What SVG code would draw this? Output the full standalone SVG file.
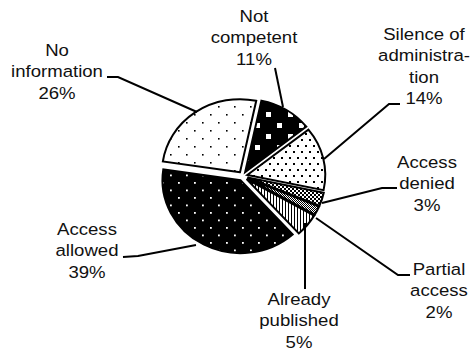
<svg xmlns="http://www.w3.org/2000/svg" width="473" height="353" viewBox="0 0 473 353">
<style>
.s{stroke:#000;stroke-width:2;stroke-linejoin:miter}
.ld{fill:none;stroke:#000;stroke-width:2}
text{font-family:"Liberation Sans",Arial,sans-serif;font-size:17.2px;fill:#111;text-anchor:middle}
</style>
<defs>
<pattern id="pNoInfo" width="16" height="16" patternUnits="userSpaceOnUse">
<rect width="16" height="16" fill="#fff"/><rect x="2" y="2" width="1.6" height="1.6" fill="#000"/><rect x="10" y="10" width="1.6" height="1.6" fill="#000"/>
</pattern>
<pattern id="pNotComp" width="22" height="22" patternUnits="userSpaceOnUse">
<rect width="22" height="22" fill="#000"/><rect x="2" y="2" width="5" height="5" fill="#fff"/><rect x="13" y="13" width="5" height="5" fill="#fff"/>
</pattern>
<pattern id="pSilence" width="8" height="12" patternUnits="userSpaceOnUse">
<rect width="8" height="12" fill="#fff"/><rect x="1" y="1" width="2" height="2" fill="#000"/><rect x="5" y="7" width="2" height="2" fill="#000"/>
</pattern>
<pattern id="pDenied" width="4" height="4" patternUnits="userSpaceOnUse">
<rect width="4" height="4" fill="#fff"/><rect width="2" height="2" fill="#000"/><rect x="2" y="2" width="2" height="2" fill="#000"/>
</pattern>
<pattern id="pPartial" width="2" height="2" patternUnits="userSpaceOnUse">
<rect width="2" height="2" fill="#fff"/><rect width="1" height="1" fill="#000"/><rect x="1" y="1" width="1" height="1" fill="#000"/>
</pattern>
<pattern id="pPublished" width="3" height="3" patternUnits="userSpaceOnUse">
<rect width="3" height="3" fill="#fff"/><rect width="1" height="3" fill="#000"/>
</pattern>
<pattern id="pAllowed" width="16" height="15" patternUnits="userSpaceOnUse">
<rect width="16" height="15" fill="#000"/><rect x="2" y="2" width="1.8" height="1.8" fill="#fff"/><rect x="10" y="9.5" width="1.8" height="1.8" fill="#fff"/>
</pattern>
</defs>

<g id="slices">
<g id="slice-not-competent"><path class="s" fill="url(#pNotComp)" d="M245.18,172.01 L261.40,100.61 A78,73 0 0 1 306.31,126.67 Z"/></g>
<g id="slice-silence"><path class="s" fill="url(#pSilence)" d="M247.28,174.93 L308.41,129.59 A78,73 0 0 1 323.57,190.11 Z"/></g>
<g id="slice-access-denied"><path class="s" fill="url(#pDenied)" d="M247.47,177.50 L323.76,192.68 A78,73 0 0 1 319.38,205.79 Z"/></g>
<g id="slice-partial-access"><path class="s" fill="url(#pPartial)" d="M247.18,178.22 L319.09,206.51 A78,73 0 0 1 314.73,214.72 Z"/></g>
<g id="slice-already-published"><path class="s" fill="url(#pPublished)" d="M246.59,179.15 L314.14,215.65 A78,73 0 0 1 298.78,233.40 Z"/></g>
<g id="slice-access-allowed"><path class="s" fill="url(#pAllowed)" d="M240.48,180.14 L292.67,234.39 A78,73 0 0 1 163.31,169.47 Z"/></g>
<g id="slice-no-information"><path class="s" fill="url(#pNoInfo)" d="M240.02,172.14 L162.85,161.47 A78,73 0 0 1 256.24,100.74 Z"/></g>
</g>

<g id="connectors">
<polyline class="ld" points="107,77 118,77 197,112"/>
<polyline class="ld" points="275,68 283,107"/>
<polyline class="ld" points="400,104 389,104 324,159"/>
<polyline class="ld" points="397,188 382,188 322,203"/>
<polyline class="ld" points="410,275 398,275 316,218"/>
<polyline class="ld" points="305,223 305,289"/>
<polyline class="ld" points="123,257 138,256 196,245"/>
</g>

<g id="label-not-competent" transform="translate(254,0) scale(1.08,1)"><text><tspan x="0" y="22">Not</tspan><tspan x="0" y="43.5">competent</tspan><tspan x="0" y="65">11%</tspan></text></g>
<g id="label-no-information" transform="translate(57,0) scale(1.08,1)"><text><tspan x="0" y="56">No</tspan><tspan x="0" y="77.5">information</tspan><tspan x="0" y="99">26%</tspan></text></g>
<g id="label-silence" transform="translate(424,0) scale(1.08,1)"><text><tspan x="0" y="40">Silence of</tspan><tspan x="0" y="61.5">administra-</tspan><tspan x="0" y="83">tion</tspan><tspan x="0" y="104.5">14%</tspan></text></g>
<g id="label-access-denied" transform="translate(427,0) scale(1.08,1)"><text><tspan x="0" y="168">Access</tspan><tspan x="0" y="189.5">denied</tspan><tspan x="0" y="211">3%</tspan></text></g>
<g id="label-partial-access" transform="translate(439,0) scale(1.08,1)"><text><tspan x="0" y="275">Partial</tspan><tspan x="0" y="296.5">access</tspan><tspan x="0" y="318">2%</tspan></text></g>
<g id="label-already-published" transform="translate(299,0) scale(1.08,1)"><text><tspan x="0" y="305">Already</tspan><tspan x="0" y="326.5">published</tspan><tspan x="0" y="348">5%</tspan></text></g>
<g id="label-access-allowed" transform="translate(87,0) scale(1.08,1)"><text><tspan x="0" y="235">Access</tspan><tspan x="0" y="256.5">allowed</tspan><tspan x="0" y="278">39%</tspan></text></g>
</svg>
